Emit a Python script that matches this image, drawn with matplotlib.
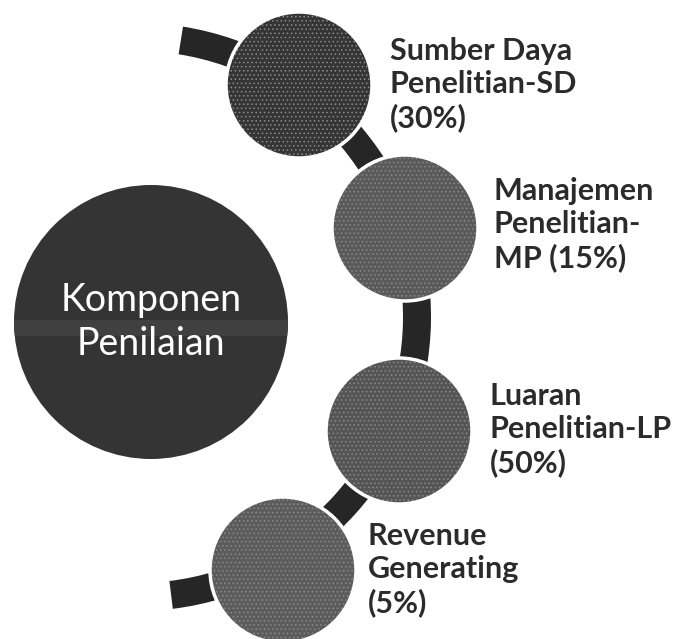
import numpy as np
import matplotlib.pyplot as plt
from matplotlib.patches import Circle, Wedge, Rectangle

# --- data ---
names = ["Sumber Daya\nPenelitian-SD", "Manajemen\nPenelitian-\nMP",
         "Luaran\nPenelitian-LP", "Revenue\nGenerating"]
weights = [30, 15, 50, 5]
joiners = ["\n", " ", "\n", "\n"]
center_title = "Komponen\nPenilaian"

# --- layout (pixel coords, y down) ---
W, H = 677, 639
arc_c, arc_r, arc_w = (137, 317), 294, 28
node_xy = [(299, 85), (405, 228), (399, 431), (283, 570)]
node_r = 73
node_fc = ["#353535", "#5a5a5a", "#555555", "#5c5c5c"]
label_xy = [(390, 37), (494, 177), (490, 382), (368, 522)]

plt.rcParams["hatch.linewidth"] = 0.6

fig = plt.figure(figsize=(W / 100, H / 100), dpi=100)
ax = fig.add_axes([0, 0, 1, 1])
ax.set_xlim(0, W)
ax.set_ylim(H, 0)
ax.set_aspect("equal")
ax.axis("off")

# curved band behind the nodes
ax.add_patch(Wedge(arc_c, arc_r, -81, 83, width=arc_w, fc="#262626", ec="none", zorder=1))

# big circle on the left
big = Circle((151, 322), 137, fc="#343434", ec="none", zorder=2)
ax.add_patch(big)
band = Rectangle((0, 320), 300, 16, fc="#404040", ec="none", zorder=2)
band.set_clip_path(big)
ax.add_patch(band)
ax.text(151, 322, center_title, color="white", fontsize=27, family="Lato",
        ha="center", va="center", linespacing=1.3, zorder=3)

# nodes + labels
for (x, y), fc, (lx, ly), nm, w, j in zip(node_xy, node_fc, label_xy, names, weights, joiners):
    ax.add_patch(Circle((x, y), node_r, fc=fc, ec="#8a8a8a", lw=0, hatch="....", zorder=3))
    ax.add_patch(Circle((x, y), node_r, fc="none", ec="white", lw=2.5, zorder=3))
    ax.text(lx, ly, f"{nm}{j}({w}%)", color="#2b2b2b", fontsize=22, family="Lato",
            fontweight="bold", ha="left", va="top", linespacing=1.22, zorder=4)

fig.savefig("out.png", dpi=100, facecolor="white")
